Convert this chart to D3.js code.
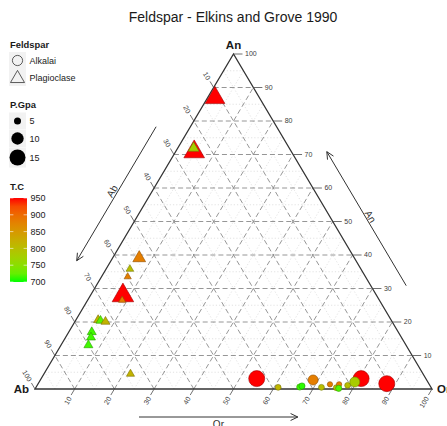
<!DOCTYPE html>
<html>
<head>
<meta charset="utf-8">
<script src="https://cdn.jsdelivr.net/npm/d3@7"></script>
<style>
  body { margin: 0; background: #fff; }
  svg { display: block; font-family: "Liberation Sans", Arial, Helvetica, sans-serif; }
</style>
</head>
<body>
<svg id="chart" width="447" height="426"></svg>
<script>
// ---- data -------------------------------------------------------------
const chartTitle = "Feldspar - Elkins and Grove 1990";
const mineral = [
  "Plagioclase","Plagioclase","Plagioclase","Plagioclase","Plagioclase",
  "Plagioclase","Plagioclase","Plagioclase","Plagioclase","Plagioclase",
  "Plagioclase","Plagioclase","Plagioclase","Plagioclase","Plagioclase",
  "Alkalai","Alkalai","Alkalai","Alkalai","Alkalai","Alkalai","Alkalai",
  "Alkalai","Alkalai","Alkalai","Alkalai","Alkalai","Alkalai","Alkalai"
];
const ab = [11.2, 24.5, 24.1, 54.2, 58.2, 59.9, 63.9, 64.8, 73.8, 73.3, 72.2, 77.2, 78.2, 80.0, 73.7,
            42.6, 38.5, 33.0, 32.3, 28.6, 27.6, 25.0, 23.9, 22.7, 23.4, 20.7, 16.3, 18.4, 10.6];
const or = [1.9, 4.7, 4.0, 6.7, 6.0, 6.6, 8.2, 8.7, 5.6, 6.3, 7.7, 5.8, 6.4, 6.9, 21.8,
            54.3, 61.0, 66.4, 66.8, 68.7, 71.9, 73.6, 75.7, 75.9, 76.4, 78.2, 80.6, 79.5, 87.8];
const an = [86.9, 70.8, 71.9, 39.1, 35.8, 33.5, 27.9, 26.5, 20.6, 20.4, 20.1, 17.0, 15.4, 13.1, 4.5,
            3.1, 0.5, 0.6, 0.9, 2.7, 0.5, 1.4, 0.4, 1.4, 0.2, 1.1, 3.1, 2.1, 1.6];
const pGpa = [13, 14, 5.7, 7, 4.2, 4, 15, 4, 4.8, 4.8, 4.8, 4.8, 4.8, 4.8, 4.4,
              15, 4.3, 4.5, 4.5, 7.5, 4.3, 4, 4.3, 4, 4.5, 4.3, 15, 7.5, 15];
const tempC = [950, 950, 775, 880, 800, 880, 950, 880, 815, 720, 815, 710, 710, 710, 815,
               950, 810, 710, 705, 880, 800, 880, 800, 880, 715, 800, 950, 780, 950];

const majorTicks = [10, 20, 30, 40, 50, 60, 70, 80, 90, 100];
const minorTicks = [5, 15, 25, 35, 45, 55, 65, 75, 85, 95];
const shapeLevels = ["Alkalai", "Plagioclase"];
const sizeBreaks = [5, 10, 15];
const tempBreaks = [950, 900, 850, 800, 750, 700];

// ---- scales -----------------------------------------------------------
const svg = d3.select("#chart");
const sx = d3.scaleLinear().domain([0, 100]).range([35, 432]);
const sy = d3.scaleLinear().domain([0, 100]).range([389, 54]);
// ternary -> screen: horizontal uses Or + An/2, vertical uses An
const tern = (o, a) => [sx(o + a / 2), sy(a)];

const sizeArea = d3.scaleLinear().domain([5, 15]).range([49, 256]);
const diam = p => Math.sqrt(Math.max(sizeArea(p), 4));
const colour = d3.scaleLinear().domain([700, 950]).range(["#00ff00", "#ff0000"])
  .interpolate(d3.interpolateLab);

const triPath = r => `M0,${-1.555 * r}L${1.347 * r},${0.778 * r}L${-1.347 * r},${0.778 * r}Z`;

// ---- title ------------------------------------------------------------
svg.append("text").attr("x", 233).attr("y", 22).attr("text-anchor", "middle")
  .attr("font-size", 14).attr("fill", "#1a1a1a").text(chartTitle);

// ---- grid -------------------------------------------------------------
const grid = svg.append("g");
function gridLines(vals, cls) {
  vals.forEach(c => {
    const segs = [
      [tern(0, c), tern(100 - c, c)],          // An constant
      [tern(c, 0), tern(c, 100 - c)],          // Or constant
      [tern(100 - c, 0), tern(0, 100 - c)]     // Ab constant
    ];
    segs.forEach(s => {
      const l = grid.append("line")
        .attr("x1", s[0][0]).attr("y1", s[0][1]).attr("x2", s[1][0]).attr("y2", s[1][1]);
      if (cls === "minor") l.attr("stroke", "#cfcfcf").attr("stroke-width", 0.6).attr("stroke-dasharray", "1.2,2");
      else l.attr("stroke", "#8a8a8a").attr("stroke-width", 0.9).attr("stroke-dasharray", "5,3");
    });
  });
}
gridLines(minorTicks, "minor");
gridLines(majorTicks.filter(v => v < 100), "major");

// ---- triangle border --------------------------------------------------
const vA = tern(0, 0), vO = tern(100, 0), vN = tern(0, 100);
svg.append("path").attr("d", `M${vA}L${vO}L${vN}Z`).attr("fill", "none")
  .attr("stroke", "#333").attr("stroke-width", 1.3);

// ---- axis ticks & labels ----------------------------------------------
const axisG = svg.append("g").attr("font-size", 7).attr("fill", "#404040");
const ux = 198.5 / 389.4, uy = 335 / 389.4;
majorTicks.forEach(c => {
  // An axis (right edge), horizontal ticks
  let p = tern(100 - c, c);
  axisG.append("line").attr("x1", p[0]).attr("y1", p[1]).attr("x2", p[0] + 9).attr("y2", p[1])
    .attr("stroke", "#4d4d4d").attr("stroke-width", 0.8);
  axisG.append("text").attr("x", p[0] + 11.5).attr("y", p[1]).attr("dy", "0.35em").text(c);

  // Ab axis (left edge), ticks up-left
  p = tern(0, 100 - c);
  axisG.append("line").attr("x1", p[0]).attr("y1", p[1])
    .attr("x2", p[0] - 7 * ux).attr("y2", p[1] - 7 * uy)
    .attr("stroke", "#4d4d4d").attr("stroke-width", 0.8);
  let lx = p[0] - 9.5 * ux, ly = p[1] - 9.5 * uy;
  axisG.append("text").attr("text-anchor", "end").attr("dy", "0.35em")
    .attr("transform", `translate(${lx},${ly}) rotate(59.4)`).text(c);

  // Or axis (bottom edge), ticks down-left
  p = tern(c, 0);
  axisG.append("line").attr("x1", p[0]).attr("y1", p[1])
    .attr("x2", p[0] - 7 * ux).attr("y2", p[1] + 7 * uy)
    .attr("stroke", "#4d4d4d").attr("stroke-width", 0.8);
  lx = p[0] - 9.5 * ux; ly = p[1] + 9.5 * uy;
  axisG.append("text").attr("text-anchor", "end").attr("dy", "0.35em")
    .attr("transform", `translate(${lx},${ly}) rotate(-59.4)`).text(c);
});

// ---- vertex labels ----------------------------------------------------
const vlab = svg.append("g").attr("font-size", 11.5).attr("font-weight", "bold").attr("fill", "#1a1a1a");
vlab.append("text").attr("x", vN[0]).attr("y", vN[1] - 5).attr("text-anchor", "middle").text("An");
vlab.append("text").attr("x", vA[0] - 6).attr("y", vA[1] + 4).attr("text-anchor", "end").text("Ab");
vlab.append("text").attr("x", vO[0] + 5).attr("y", vO[1] + 4).attr("text-anchor", "start").text("Or");

// ---- direction arrows -------------------------------------------------
const arrows = svg.append("g").attr("stroke", "#333").attr("stroke-width", 1).attr("fill", "none");
function arrow(p0, p1, off, nx, ny, label, rot, loff) {
  const a = [p0[0] + (p1[0] - p0[0]) * 0.262 + nx * off, p0[1] + (p1[1] - p0[1]) * 0.262 + ny * off];
  const b = [p0[0] + (p1[0] - p0[0]) * 0.662 + nx * off, p0[1] + (p1[1] - p0[1]) * 0.662 + ny * off];
  arrows.append("line").attr("x1", a[0]).attr("y1", a[1]).attr("x2", b[0]).attr("y2", b[1]);
  const ang = Math.atan2(b[1] - a[1], b[0] - a[0]);
  const h = 8, w = Math.PI / 7;
  arrows.append("path").attr("d",
    `M${b[0] - h * Math.cos(ang - w)},${b[1] - h * Math.sin(ang - w)}L${b[0]},${b[1]}` +
    `L${b[0] - h * Math.cos(ang + w)},${b[1] - h * Math.sin(ang + w)}`);
  const m = [p0[0] + (p1[0] - p0[0]) * 0.462 + nx * loff, p0[1] + (p1[1] - p0[1]) * 0.462 + ny * loff];
  svg.append("text").attr("font-size", 10).attr("fill", "#333").attr("text-anchor", "middle")
    .attr("dy", "0.35em").attr("transform", `translate(${m[0]},${m[1]}) rotate(${rot})`).text(label);
}
arrow(vN, vA, 29.5, -0.86, -0.51, "Ab", -59.4, 34.5);
arrow(vO, vN, 30.5, 0.86, -0.51, "An", 59.4, 35);
arrow(vA, vO, 28, 0, 1, "Or", 0, 35.5);

// ---- points -----------------------------------------------------------
const pts = svg.append("g");
mineral.forEach((m, i) => {
  const tot = ab[i] + or[i] + an[i];
  const p = tern(or[i] * 100 / tot, an[i] * 100 / tot);
  const r = diam(pGpa[i]) / 2;
  const fill = colour(tempC[i]);
  const stroke = d3.color(fill).darker(1.3).formatHex();
  if (m === "Alkalai") {
    pts.append("circle").attr("cx", p[0]).attr("cy", p[1]).attr("r", r)
      .attr("fill", fill).attr("stroke", stroke).attr("stroke-width", 0.6);
  } else {
    pts.append("path").attr("transform", `translate(${p[0]},${p[1]})`).attr("d", triPath(r))
      .attr("fill", fill).attr("stroke", stroke).attr("stroke-width", 0.6);
  }
});

// ---- legends ----------------------------------------------------------
const lg = svg.append("g").attr("fill", "#1a1a1a");
const keyBg = "#f2f2f2";
// shape legend
lg.append("text").attr("x", 10).attr("y", 47.5).attr("font-size", 9.4).attr("font-weight", "bold").text("Feldspar");
shapeLevels.forEach((s, i) => {
  const cy = 60.5 + i * 17;
  lg.append("rect").attr("x", 9).attr("y", cy - 8.5).attr("width", 17).attr("height", 17).attr("fill", keyBg);
  if (s === "Alkalai") {
    lg.append("circle").attr("cx", 17.5).attr("cy", cy).attr("r", 5.1)
      .attr("fill", "none").attr("stroke", "#333").attr("stroke-width", 0.8);
  } else {
    lg.append("path").attr("transform", `translate(17.5,${cy + 1})`).attr("d", triPath(5.2))
      .attr("fill", "none").attr("stroke", "#333").attr("stroke-width", 0.8);
  }
  lg.append("text").attr("x", 29.5).attr("y", cy).attr("dy", "0.35em").attr("font-size", 9).text(s);
});

// size legend
lg.append("text").attr("x", 10).attr("y", 107.5).attr("font-size", 9.4).attr("font-weight", "bold").text("P.Gpa");
const sizeY = [121, 138.5, 157.5];
sizeBreaks.forEach((v, i) => {
  const cy = sizeY[i];
  const kh = i === 2 ? 20 : 17;
  lg.append("rect").attr("x", 9).attr("y", cy - kh / 2).attr("width", 17).attr("height", kh).attr("fill", keyBg);
  lg.append("circle").attr("cx", 17.5).attr("cy", cy).attr("r", diam(v) / 2).attr("fill", "#000");
  lg.append("text").attr("x", 29.5).attr("y", cy).attr("dy", "0.35em").attr("font-size", 9).text(v);
});

// colour bar
lg.append("text").attr("x", 10).attr("y", 189.5).attr("font-size", 9.4).attr("font-weight", "bold").text("T.C");
const barY = d3.scaleLinear().domain([700, 950]).range([282, 198]);
const grad = svg.append("defs").append("linearGradient").attr("id", "tgrad")
  .attr("x1", 0).attr("y1", 1).attr("x2", 0).attr("y2", 0);
d3.range(0, 1.0001, 0.1).forEach(t => {
  grad.append("stop").attr("offset", t).attr("stop-color", colour(700 + 250 * t));
});
lg.append("rect").attr("x", 10).attr("y", barY(950)).attr("width", 17)
  .attr("height", barY(700) - barY(950)).attr("fill", "url(#tgrad)");
tempBreaks.forEach(v => {
  const y = barY(v);
  lg.append("line").attr("x1", 10).attr("x2", 13.4).attr("y1", y).attr("y2", y).attr("stroke", "#fff").attr("stroke-width", 0.6);
  lg.append("line").attr("x1", 23.6).attr("x2", 27).attr("y1", y).attr("y2", y).attr("stroke", "#fff").attr("stroke-width", 0.6);
  lg.append("text").attr("x", 30.5).attr("y", y).attr("dy", "0.35em").attr("font-size", 9).text(v);
});
</script>
</body>
</html>
